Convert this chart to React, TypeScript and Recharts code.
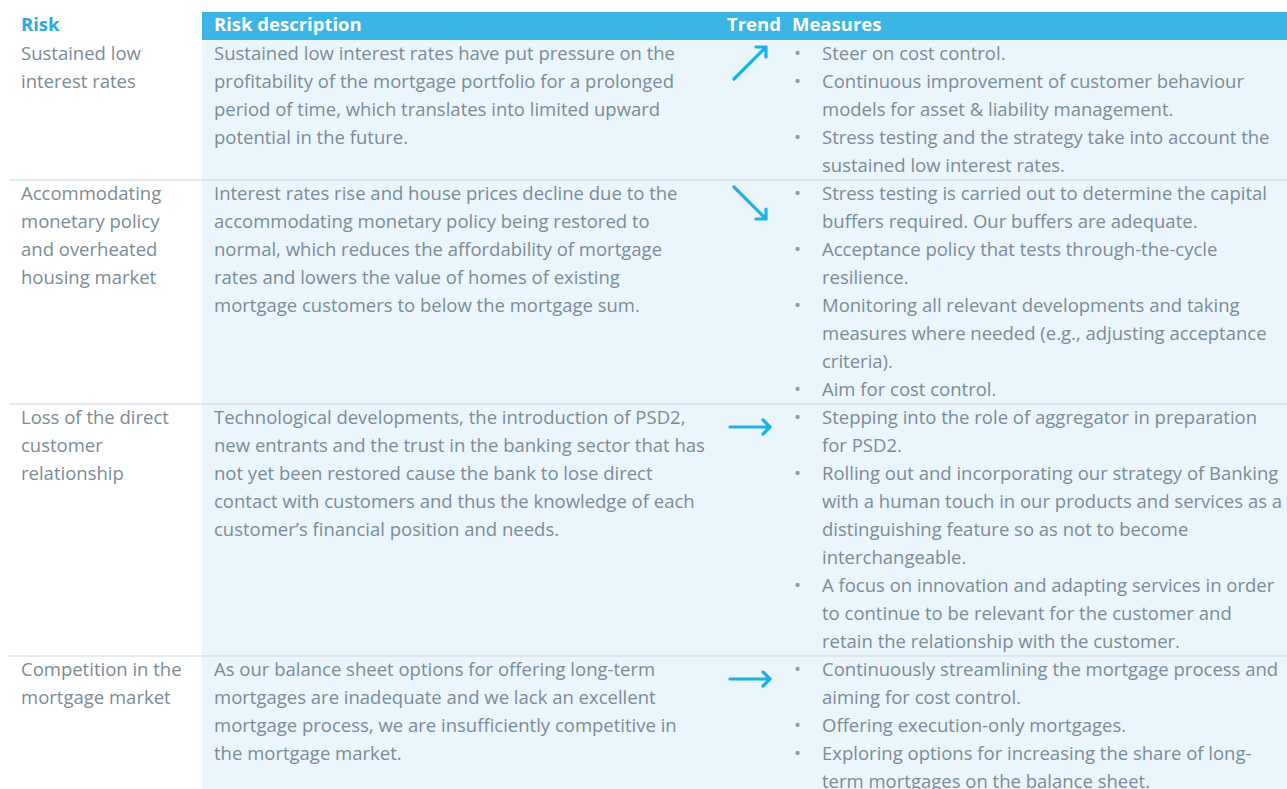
import React from "react";
import {
  ComposedChart, Scatter, XAxis, YAxis, ReferenceArea, ReferenceLine,
} from "recharts";

// table contents, pre-wrapped as in the annual report layout
const headers = ["Risk", "Risk description", "Trend", "Measures"];

const riskNames: string[][] = [
  ["Sustained low", "interest rates"],
  ["Accommodating", "monetary policy", "and overheated", "housing market"],
  ["Loss of the direct", "customer", "relationship"],
  ["Competition in the", "mortgage market"],
];

const descriptions: string[][] = [
  [
    "Sustained low interest rates have put pressure on the",
    "profitability of the mortgage portfolio for a prolonged",
    "period of time, which translates into limited upward",
    "potential in the future.",
  ],
  [
    "Interest rates rise and house prices decline due to the",
    "accommodating monetary policy being restored to",
    "normal, which reduces the affordability of mortgage",
    "rates and lowers the value of homes of existing",
    "mortgage customers to below the mortgage sum.",
  ],
  [
    "Technological developments, the introduction of PSD2,",
    "new entrants and the trust in the banking sector that has",
    "not yet been restored cause the bank to lose direct",
    "contact with customers and thus the knowledge of each",
    "customer\u2019s financial position and needs.",
  ],
  [
    "As our balance sheet options for offering long-term",
    "mortgages are inadequate and we lack an excellent",
    "mortgage process, we are insufficiently competitive in",
    "the mortgage market.",
  ],
];

const trends = ["up", "down", "flat", "flat"];

const measures: string[][][] = [
  [
    ["Steer on cost control."],
    ["Continuous improvement of customer behaviour", "models for asset & liability management."],
    ["Stress testing and the strategy take into account the", "sustained low interest rates."],
  ],
  [
    ["Stress testing is carried out to determine the capital", "buffers required. Our buffers are adequate."],
    ["Acceptance policy that tests through-the-cycle", "resilience."],
    ["Monitoring all relevant developments and taking", "measures where needed (e.g., adjusting acceptance", "criteria)."],
    ["Aim for cost control."],
  ],
  [
    ["Stepping into the role of aggregator in preparation", "for PSD2."],
    [
      "Rolling out and incorporating our strategy of Banking",
      "with a human touch in our products and services as a",
      "distinguishing feature so as not to become",
      "interchangeable.",
    ],
    [
      "A focus on innovation and adapting services in order",
      "to continue to be relevant for the customer and",
      "retain the relationship with the customer.",
    ],
  ],
  [
    ["Continuously streamlining the mortgage process and", "aiming for cost control."],
    ["Offering execution-only mortgages."],
    ["Exploring options for increasing the share of long-", "term mortgages on the balance sheet."],
  ],
];

const W = 1287;
const H = 789;
const font = "'Open Sans', sans-serif";
const fs = 18.5;
const grey = "#7b8b97";
const blue = "#3bb4e6";
const arrowBlue = "#1fb0e6";
const col = { risk: 21, desc: 214, trend: 750, bullet: 794, measure: 822, head: [21, 214, 727, 792] };
const headTop = 12;
const bodyTop = 40;
const lineH = 28;
const base = 20;

type Txt = { x: number; y: number; text: string; kind: string };

// row layout: height follows the tallest column
const rowLines = riskNames.map((r, i) =>
  Math.max(r.length, descriptions[i].length, measures[i].reduce((s, m) => s + m.length, 0)),
);
const rowTops: number[] = [];
rowLines.reduce((top, n) => { rowTops.push(top); return top + n * lineH; }, bodyTop);
const separators = rowTops.slice(1);

const texts: Txt[] = [];
headers.forEach((h, i) => texts.push({ x: col.head[i], y: 31, text: h, kind: i === 0 ? "headRisk" : "head" }));
riskNames.forEach((rows, i) => {
  rows.forEach((t, j) => texts.push({ x: col.risk, y: rowTops[i] + base + j * lineH, text: t, kind: "body" }));
  descriptions[i].forEach((t, j) => texts.push({ x: col.desc, y: rowTops[i] + base + j * lineH, text: t, kind: "body" }));
  let k = 0;
  measures[i].forEach((m) => {
    texts.push({ x: col.bullet, y: rowTops[i] + base + k * lineH, text: "\u2022", kind: "bullet" });
    m.forEach((t) => {
      texts.push({ x: col.measure, y: rowTops[i] + base + k * lineH, text: t, kind: "body" });
      k++;
    });
  });
});

const arrows = trends.map((t, i) => ({ x: col.trend, y: rowTops[i] + 23, trend: t }));

const TextShape = (p: any) => {
  const d: Txt = p.payload;
  const head = d.kind === "head" || d.kind === "headRisk";
  return (
    <text
      x={p.cx}
      y={p.cy}
      fontFamily={font}
      fontSize={fs}
      fontWeight={head ? 700 : 400}
      fill={d.kind === "head" ? "#ffffff" : d.kind === "headRisk" ? "#29abe2" : d.kind === "bullet" ? "#8d9ba5" : grey}
      style={{ whiteSpace: "pre" }}
    >
      {d.text}
    </text>
  );
};

const ArrowShape = (p: any) => {
  const { cx, cy } = p;
  const t = p.payload.trend;
  let path = "";
  if (t === "up") {
    path = `M${cx - 16},${cy + 16} L${cx + 16},${cy - 16} M${cx + 6},${cy - 16} L${cx + 16},${cy - 16} L${cx + 16},${cy - 6}`;
  } else if (t === "down") {
    path = `M${cx - 16},${cy - 16} L${cx + 16},${cy + 16} M${cx + 6},${cy + 16} L${cx + 16},${cy + 16} L${cx + 16},${cy + 6}`;
  } else {
    path = `M${cx - 20},${cy} L${cx + 20},${cy} M${cx + 13},${cy - 7} L${cx + 20},${cy} L${cx + 13},${cy + 7}`;
  }
  return <path d={path} fill="none" stroke={arrowBlue} strokeWidth={3.2} strokeLinecap="round" strokeLinejoin="round" />;
};

export default function App() {
  return (
    <div style={{ position: "absolute", left: 0, top: 0, width: W, height: H, background: "#fff" }}>
      <ComposedChart width={W} height={H} margin={{ top: 0, right: 0, bottom: 0, left: 0 }}>
        <XAxis type="number" dataKey="x" domain={[0, W]} hide allowDataOverflow />
        <YAxis type="number" dataKey="y" domain={[0, H]} reversed hide allowDataOverflow />
        <ReferenceArea x1={202} x2={W} y1={bodyTop} y2={H} fill="#eaf6fc" fillOpacity={1} stroke="none" />
        <ReferenceArea x1={202} x2={W} y1={headTop} y2={bodyTop} fill={blue} fillOpacity={1} stroke="none" />
        {separators.map((y) => (
          <ReferenceLine key={y} segment={[{ x: 9, y }, { x: W, y }]} stroke="#cfd7dd" strokeWidth={1} />
        ))}
        <Scatter data={texts} dataKey="y" shape={TextShape} isAnimationActive={false} />
        <Scatter data={arrows} dataKey="y" shape={ArrowShape} isAnimationActive={false} />
      </ComposedChart>
    </div>
  );
}
